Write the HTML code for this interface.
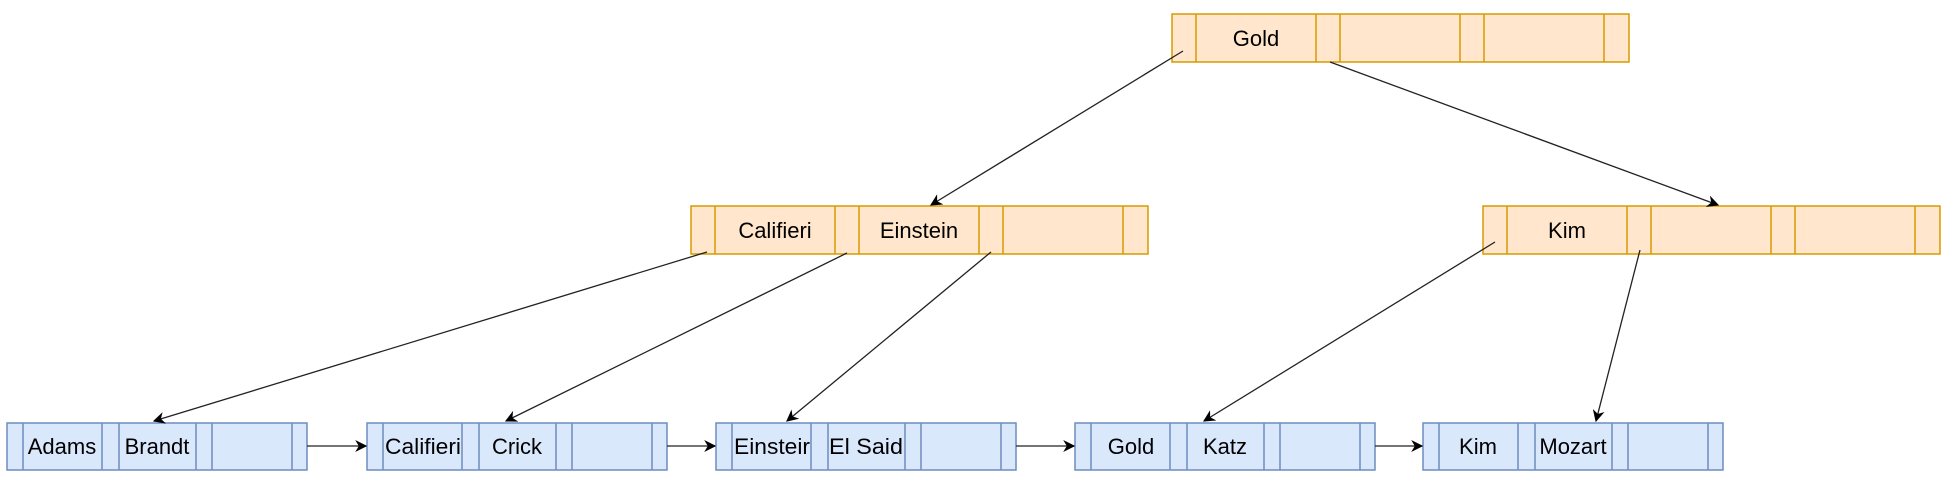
<!DOCTYPE html>
<html><head><meta charset="utf-8"><style>
html,body{margin:0;padding:0;background:#fff;}
svg{display:block;font-family:"Liberation Sans",Arial,sans-serif;}
</style></head><body>
<svg width="1948" height="491" viewBox="0 0 1948 491" xmlns="http://www.w3.org/2000/svg">
<defs>
<marker id="a" viewBox="0 0 10 10" refX="9" refY="5" markerWidth="12" markerHeight="12" markerUnits="userSpaceOnUse" orient="auto">
<path d="M0,0 L10,5 L0,10 L3,5 Z" fill="#000"/>
</marker>
</defs>
<g fill="#ffe6cc" stroke="#d79b00" stroke-width="1.5">
<rect x="1172" y="14" width="457" height="48"/>
<line x1="1196" y1="14" x2="1196" y2="62"/><line x1="1316" y1="14" x2="1316" y2="62"/>
<line x1="1340" y1="14" x2="1340" y2="62"/><line x1="1460" y1="14" x2="1460" y2="62"/>
<line x1="1484" y1="14" x2="1484" y2="62"/><line x1="1604" y1="14" x2="1604" y2="62"/>
</g>
<g fill="#ffe6cc" stroke="#d79b00" stroke-width="1.5">
<rect x="691" y="206" width="457" height="48"/>
<line x1="715" y1="206" x2="715" y2="254"/><line x1="835" y1="206" x2="835" y2="254"/>
<line x1="859" y1="206" x2="859" y2="254"/><line x1="979" y1="206" x2="979" y2="254"/>
<line x1="1003" y1="206" x2="1003" y2="254"/><line x1="1123" y1="206" x2="1123" y2="254"/>
<rect x="1483" y="206" width="457" height="48"/>
<line x1="1507" y1="206" x2="1507" y2="254"/><line x1="1627" y1="206" x2="1627" y2="254"/>
<line x1="1651" y1="206" x2="1651" y2="254"/><line x1="1771" y1="206" x2="1771" y2="254"/>
<line x1="1795" y1="206" x2="1795" y2="254"/><line x1="1915" y1="206" x2="1915" y2="254"/>
</g>
<g fill="#dae8fc" stroke="#6c8ebf" stroke-width="1.5">
<rect x="7" y="423" width="300" height="47"/>
<line x1="23" y1="423" x2="23" y2="470"/><line x1="102" y1="423" x2="102" y2="470"/><line x1="119" y1="423" x2="119" y2="470"/><line x1="196" y1="423" x2="196" y2="470"/><line x1="212" y1="423" x2="212" y2="470"/><line x1="292" y1="423" x2="292" y2="470"/>
<rect x="367" y="423" width="300" height="47"/>
<line x1="383" y1="423" x2="383" y2="470"/><line x1="462" y1="423" x2="462" y2="470"/><line x1="479" y1="423" x2="479" y2="470"/><line x1="556" y1="423" x2="556" y2="470"/><line x1="572" y1="423" x2="572" y2="470"/><line x1="652" y1="423" x2="652" y2="470"/>
<rect x="716" y="423" width="300" height="47"/>
<line x1="732" y1="423" x2="732" y2="470"/><line x1="811" y1="423" x2="811" y2="470"/><line x1="828" y1="423" x2="828" y2="470"/><line x1="905" y1="423" x2="905" y2="470"/><line x1="921" y1="423" x2="921" y2="470"/><line x1="1001" y1="423" x2="1001" y2="470"/>
<rect x="1075" y="423" width="300" height="47"/>
<line x1="1091" y1="423" x2="1091" y2="470"/><line x1="1170" y1="423" x2="1170" y2="470"/><line x1="1187" y1="423" x2="1187" y2="470"/><line x1="1264" y1="423" x2="1264" y2="470"/><line x1="1280" y1="423" x2="1280" y2="470"/><line x1="1360" y1="423" x2="1360" y2="470"/>
<rect x="1423" y="423" width="300" height="47"/>
<line x1="1439" y1="423" x2="1439" y2="470"/><line x1="1518" y1="423" x2="1518" y2="470"/><line x1="1535" y1="423" x2="1535" y2="470"/><line x1="1612" y1="423" x2="1612" y2="470"/><line x1="1628" y1="423" x2="1628" y2="470"/><line x1="1708" y1="423" x2="1708" y2="470"/>
</g>
<g stroke="#222" stroke-width="1.3" fill="none" marker-end="url(#a)">
<line x1="1183" y1="51" x2="931" y2="205"/>
<line x1="1330" y1="62" x2="1718" y2="205"/>
<line x1="707" y1="252" x2="154" y2="421"/>
<line x1="847" y1="253" x2="506" y2="421"/>
<line x1="991" y1="252" x2="787" y2="421"/>
<line x1="1495" y1="242" x2="1204" y2="421"/>
<line x1="1640" y1="250" x2="1596" y2="421"/>
<line x1="307" y1="446" x2="366" y2="446"/>
<line x1="667" y1="446" x2="715" y2="446"/>
<line x1="1016" y1="446" x2="1074" y2="446"/>
<line x1="1375" y1="446" x2="1422" y2="446"/>
</g>
<g font-size="22" fill="#000" text-anchor="middle">
<text x="1256" y="46">Gold</text>
<text x="775" y="238">Califieri</text>
<text x="919" y="238">Einstein</text>
<text x="1567" y="238">Kim</text>
<text x="62" y="454">Adams</text>
<text x="157" y="454">Brandt</text>
<text x="423" y="454" textLength="76" lengthAdjust="spacingAndGlyphs">Califieri</text>
<text x="517" y="454">Crick</text>
<text x="772" y="454" textLength="76" lengthAdjust="spacingAndGlyphs">Einsteir</text>
<text x="866" y="454" textLength="74" lengthAdjust="spacingAndGlyphs">El Said</text>
<text x="1131" y="454">Gold</text>
<text x="1225" y="454">Katz</text>
<text x="1478" y="454">Kim</text>
<text x="1573" y="454">Mozart</text>
</g>
</svg>
</body></html>
